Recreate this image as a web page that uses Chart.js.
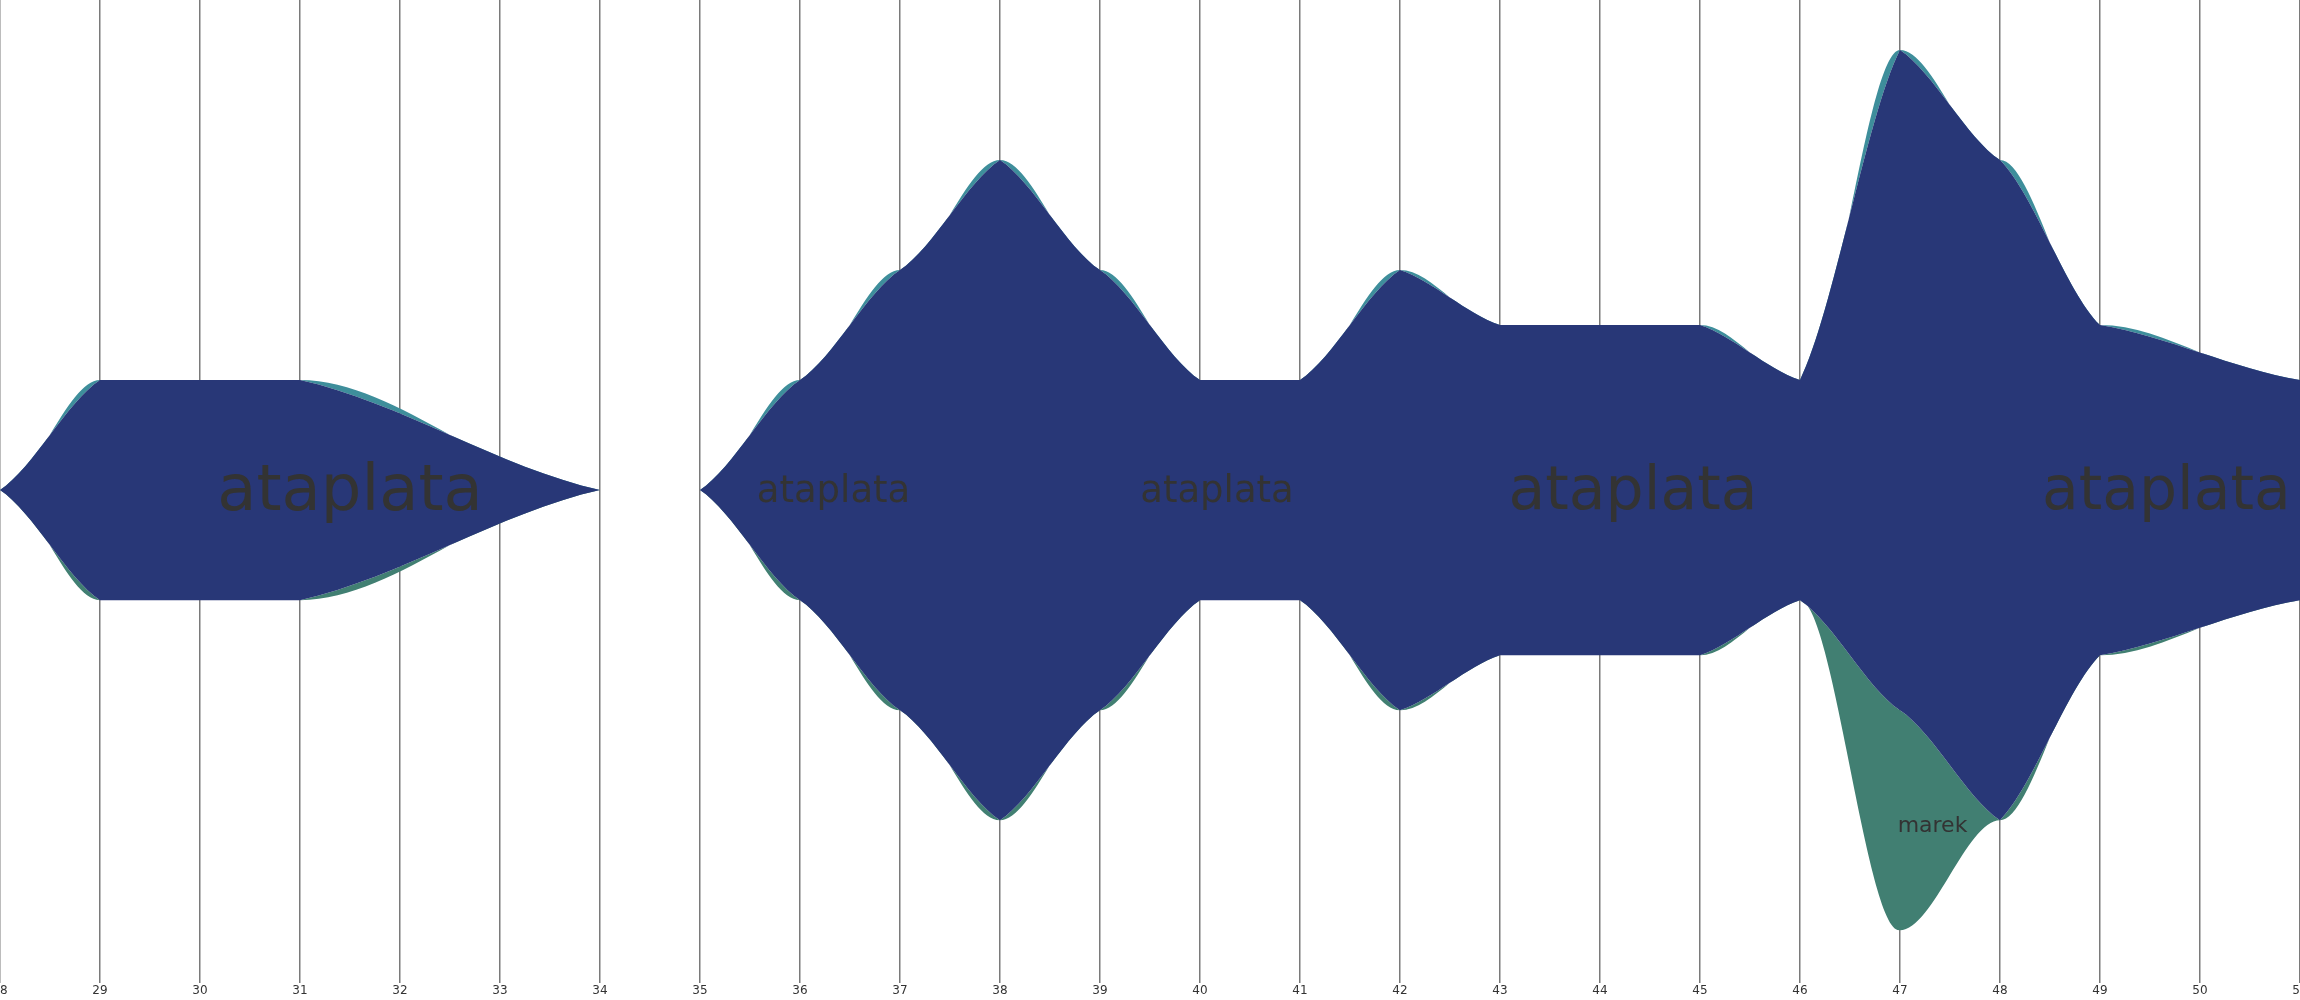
<!DOCTYPE html>
<html>
<head>
<meta charset="utf-8">
<script src="https://cdn.jsdelivr.net/npm/chart.js@4/dist/chart.umd.min.js"></script>
<style>
  html, body { margin: 0; padding: 0; background: #ffffff; overflow: hidden; }
  #wrap { width: 2300px; height: 1000px; }
</style>
</head>
<body>
<div id="wrap"><canvas id="c" width="2300" height="1000"></canvas></div>
<script>
// ---- data ----
const weeks    = [28, 29, 30, 31, 34, 35, 36, 37, 38, 39, 40, 41, 42, 43, 44, 45, 46, 47, 48, 49, 51];
const ataplata = [ 0,  2,  2,  2,  0,  0,  2,  4,  6,  4,  2,  2,  4,  3,  3,  3,  2,  6,  6,  3,  2];
const marek    = [ 0,  0,  0,  0,  0,  0,  0,  0,  0,  0,  0,  0,  0,  0,  0,  0,  0,  2,  0,  0,  0];
const other    = [ 0,  0,  0,  0,  0,  0,  0,  0,  0,  0,  0,  0,  0,  0,  0,  0,  0,  0,  0,  0,  0];
const xTicks   = [28, 29, 30, 31, 32, 33, 34, 35, 36, 37, 38, 39, 40, 41, 42, 43, 44, 45, 46, 47, 48, 49, 50, 51];

// in-chart labels (series name, position in data units, font size)
const labelNames = ['ataplata', 'ataplata', 'ataplata', 'ataplata', 'ataplata', 'marek'];
const labelX     = [31.5, 36.335, 40.17, 44.33, 49.664, 47.325];
const labelY     = [0, 0, 0, 0, 0, -3.04];
const labelSize  = [64, 37, 37, 60, 60, 22];

const COLORS = { marek: '#417f72', ataplata: '#283777', other: '#3e8e9b' };

// ---- stream layout (symmetric silhouette around 0) ----
const totals = weeks.map((w, i) => marek[i] + ataplata[i] + other[i]);
const base   = totals.map(t => -t / 2);
const b1     = base.map((b, i) => b + marek[i]);
const b2     = b1.map((b, i) => b + ataplata[i]);
const b3     = b2.map((b, i) => b + other[i]);
const pts = arr => weeks.map((w, i) => ({ x: w, y: arr[i] }));

// custom smoothing: bezier handles 1/3 of the gap, tilted by lam * segment slope
const smoothPlugin = {
  id: 'streamSmooth',
  afterDatasetsUpdate(chart) {
    chart.data.datasets.forEach((ds, di) => {
      const meta = chart.getDatasetMeta(di);
      const lam = ds.curveTilt || 0;
      const p = meta.data;
      for (let j = 0; j < p.length; j++) {
        const cur = p[j], prev = p[j - 1], next = p[j + 1];
        if (prev) {
          const dx = cur.x - prev.x;
          cur.cp1x = cur.x - dx / 3;
          cur.cp1y = cur.y - lam * (cur.y - prev.y) / 3;
        } else { cur.cp1x = cur.x; cur.cp1y = cur.y; }
        if (next) {
          const dx = next.x - cur.x;
          cur.cp2x = cur.x + dx / 3;
          cur.cp2y = cur.y + lam * (next.y - cur.y) / 3;
        } else { cur.cp2x = cur.x; cur.cp2y = cur.y; }
      }
      if (meta.dataset) meta.dataset._pointsUpdated = true;
    });
  }
};

const labelPlugin = {
  id: 'streamLabels',
  afterDatasetsDraw(chart) {
    const ctx = chart.ctx, xs = chart.scales.x, ys = chart.scales.y;
    ctx.save();
    ctx.fillStyle = '#333333';
    ctx.textAlign = 'center';
    ctx.textBaseline = 'alphabetic';
    labelNames.forEach((t, i) => {
      ctx.font = labelSize[i] + 'px "DejaVu Sans"';
      ctx.fillText(t, xs.getPixelForValue(labelX[i]), ys.getPixelForValue(labelY[i]) + 0.315 * labelSize[i]);
    });
    ctx.restore();
  }
};

const common = { borderWidth: 0, borderColor: 'rgba(0,0,0,0)', pointRadius: 0, pointHoverRadius: 0, tension: 0.4 };

new Chart(document.getElementById('c'), {
  type: 'line',
  data: {
    datasets: [
      Object.assign({ label: 'base', data: pts(base), fill: false, curveTilt: 0, order: 4 }, common),
      Object.assign({ label: 'marek', data: pts(b1), fill: '-1', backgroundColor: COLORS.marek, curveTilt: 0.6, order: 2 }, common),
      Object.assign({ label: 'ataplata', data: pts(b2), fill: '-1', backgroundColor: COLORS.ataplata, curveTilt: 0.6, order: 0 }, common),
      Object.assign({ label: 'other', data: pts(b3), fill: '-1', backgroundColor: COLORS.other, curveTilt: 0, order: 3 }, common)
    ]
  },
  options: {
    responsive: false,
    devicePixelRatio: 1,
    animation: false,
    layout: { padding: 0 },
    plugins: { legend: { display: false }, tooltip: { enabled: false } },
    events: [],
    scales: {
      x: {
        type: 'linear',
        min: 28, max: 51,
        afterBuildTicks(scale) { scale.ticks = xTicks.map(v => ({ value: v })); },
        afterFit(scale) { scale.paddingLeft = 0; scale.paddingRight = 0; scale.height = 17; },
        grid: { color: '#7a7a7a', lineWidth: 1.5, drawTicks: false },
        border: { display: false },
        ticks: { padding: 1, color: '#333333', font: { family: 'DejaVu Sans', size: 12 }, maxRotation: 0, autoSkip: false, callback: v => String(v) }
      },
      y: { display: false, min: -4.48, max: 4.455 }
    }
  },
  plugins: [smoothPlugin, labelPlugin]
});
</script>
</body>
</html>
